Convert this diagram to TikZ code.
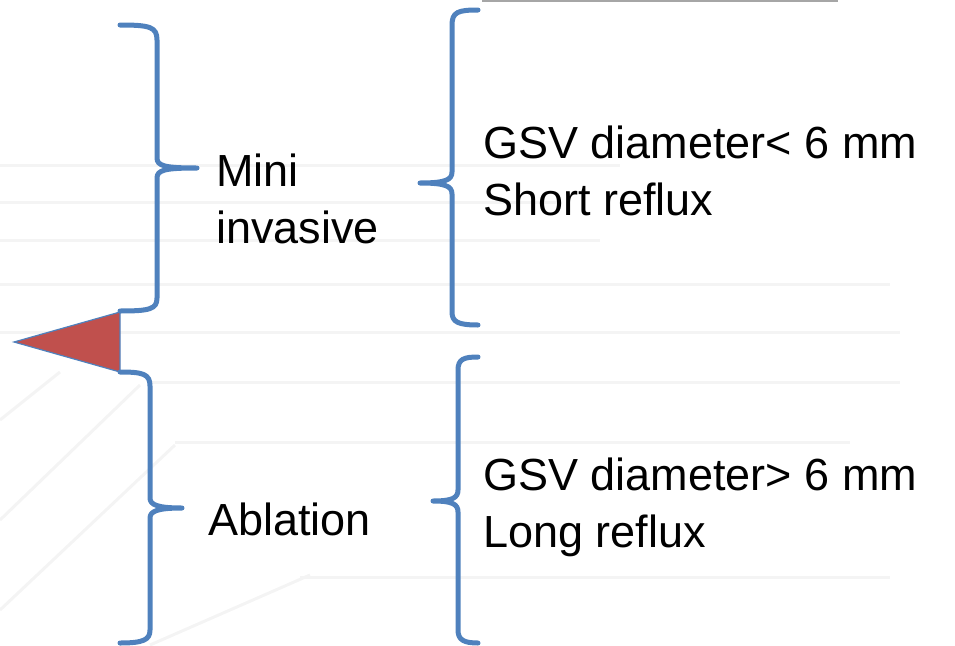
\documentclass[tikz,border=0pt]{standalone}
\usepackage{fontspec}
\setmainfont{Liberation Sans}
\definecolor{braceblue}{HTML}{4F81BD}
\definecolor{flagred}{HTML}{C0504D}
\definecolor{bgline}{HTML}{F4F4F4}
\begin{document}
\begin{tikzpicture}[x=1pt,y=-1pt,
  bracestyle/.style={draw=braceblue,line width=5pt,line cap=round,line join=round},
  bgstyle/.style={draw=bgline,line width=3pt},
  lbl/.style={anchor=base west,inner sep=0pt,align=left,font=\fontsize{45}{57}\selectfont}]
\useasboundingbox (0,0) rectangle (955,645);
% faint background lines
\draw[bgstyle] (0,165) -- (620,165);
\draw[bgstyle] (0,202) -- (560,202);
\draw[bgstyle] (0,240) -- (600,240);
\draw[bgstyle] (0,284) -- (890,284);
\draw[bgstyle] (0,332) -- (900,332);
\draw[bgstyle] (150,382) -- (900,382);
\draw[bgstyle] (175,442) -- (850,442);
\draw[bgstyle] (300,577) -- (890,577);
\draw[bgstyle] (0,420) -- (60,372);
\draw[bgstyle] (0,520) -- (140,385);
\draw[bgstyle] (0,610) -- (175,445);
\draw[bgstyle] (150,645) -- (310,575);
% top box edge
\draw[draw=gray!70,line width=2pt] (482,1) -- (838,1);
% red flag
\draw[fill=flagred,draw=braceblue,line width=1.2pt] (14,342) -- (120,312) -- (120,372) -- cycle;
% braces
\draw[bracestyle] (120,25) .. controls (150,25) and (157,27) .. (157,40) -- (157,158)
  .. controls (157,166) and (165,168) .. (197,168)
  .. controls (165,168) and (157,170) .. (157,178) -- (157,298)
  .. controls (157,309) and (150,311) .. (120,311);
\draw[bracestyle] (478,10) .. controls (458,10) and (452,12) .. (452,25) -- (452,172)
  .. controls (452,180) and (445,183) .. (420,183)
  .. controls (445,183) and (452,186) .. (452,194) -- (452,312)
  .. controls (452,322) and (458,325) .. (478,325);
\draw[bracestyle] (120,372) .. controls (143,372) and (150,374) .. (150,386) -- (150,498)
  .. controls (150,505) and (158,508) .. (182,508)
  .. controls (158,508) and (150,511) .. (150,518) -- (150,630)
  .. controls (150,640) and (143,643) .. (120,643);
\draw[bracestyle] (478,357) .. controls (464,357) and (458,359) .. (458,370) -- (458,490)
  .. controls (458,498) and (452,501) .. (433,501)
  .. controls (452,501) and (458,504) .. (458,512) -- (458,630)
  .. controls (458,640) and (464,643) .. (478,643);
% labels (base anchor = baseline of last line)
\node[lbl] (mini) at (216,243) {Mini\\invasive};
\node[lbl] (abl) at (208,535) {Ablation};
\node[lbl] (short) at (483,215) {GSV diameter< 6 mm\\Short reflux};
\node[lbl] (long) at (483,547) {GSV diameter> 6 mm\\Long reflux};
\end{tikzpicture}
\end{document}
